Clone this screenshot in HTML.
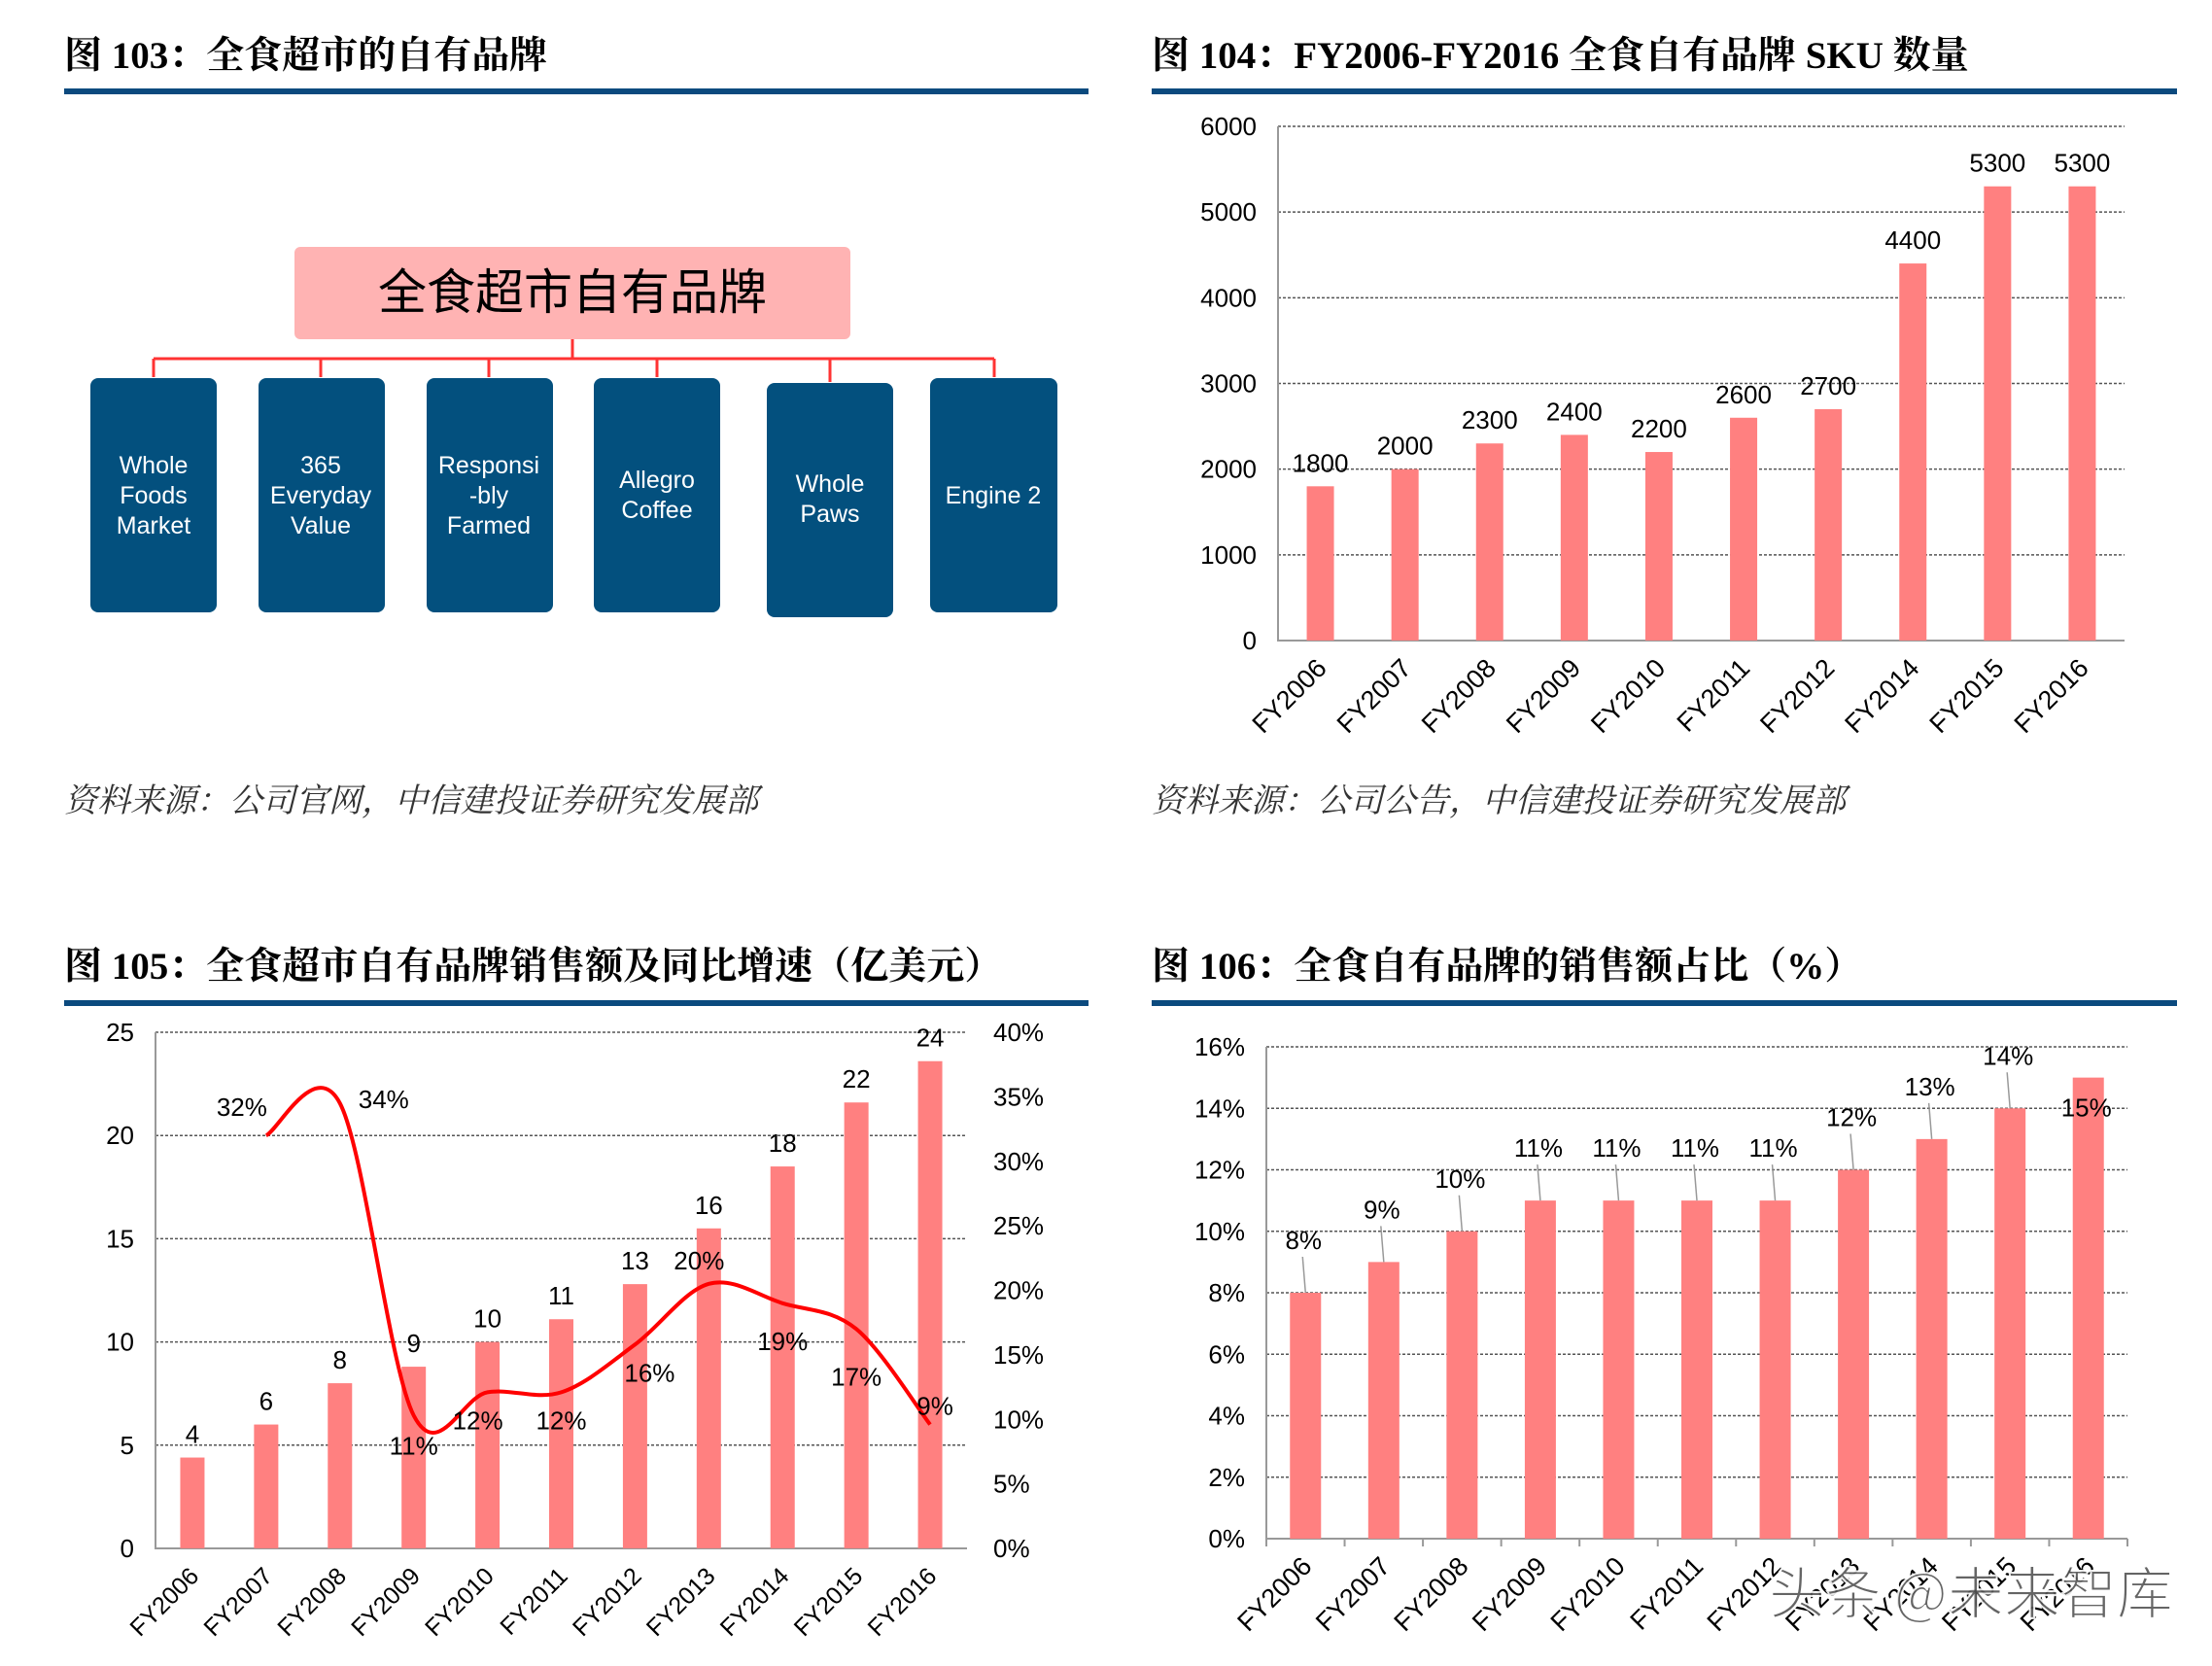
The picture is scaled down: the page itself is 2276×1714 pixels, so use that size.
<!DOCTYPE html>
<html><head><meta charset="utf-8">
<style>
html,body{margin:0;padding:0;background:#fff;}
svg{display:block;}
.t{font-family:"Liberation Serif","Noto Serif CJK SC",serif;font-weight:bold;font-size:39px;fill:#000;}
.s{font-family:"Liberation Serif","Noto Serif CJK SC",serif;font-style:italic;font-size:34px;fill:#333;}
.n{font-family:"Liberation Sans","Noto Sans CJK SC",sans-serif;font-size:25px;fill:#000;}
.b{font-family:"Liberation Sans",sans-serif;font-size:25px;fill:#fff;}
</style></head>
<body>
<svg id="root" width="2276" height="1714" viewBox="0 0 2276 1714" xmlns="http://www.w3.org/2000/svg">
<g>
<text class="t" x="66" y="70">图 103：全食超市的自有品牌</text>
<rect x="66" y="91" width="1054" height="6" fill="#0b4a7e"/>
<rect x="303" y="254" width="572" height="95" rx="6" fill="#ffb3b3"/>
<text x="589" y="318" text-anchor="middle" style="font-family:'Noto Sans CJK SC',sans-serif;font-size:50px" fill="#000">全食超市自有品牌</text>
<g stroke="#ff3333" stroke-width="3" fill="none">
<path d="M589 349V369M158 369H1023M158 369V388M330 369V388M503 369V388M676 369V388M854 369V393M1023 369V388"/>
</g>
<g>
<rect x="93" y="389" width="130" height="241" rx="8" fill="#03507e"/>
<text class="b" text-anchor="middle"><tspan x="158" y="487">Whole</tspan><tspan x="158" y="518">Foods</tspan><tspan x="158" y="549">Market</tspan></text>
<rect x="266" y="389" width="130" height="241" rx="8" fill="#03507e"/>
<text class="b" text-anchor="middle"><tspan x="330" y="487">365</tspan><tspan x="330" y="518">Everyday</tspan><tspan x="330" y="549">Value</tspan></text>
<rect x="439" y="389" width="130" height="241" rx="8" fill="#03507e"/>
<text class="b" text-anchor="middle"><tspan x="503" y="487">Responsi</tspan><tspan x="503" y="518">-bly</tspan><tspan x="503" y="549">Farmed</tspan></text>
<rect x="611" y="389" width="130" height="241" rx="8" fill="#03507e"/>
<text class="b" text-anchor="middle"><tspan x="676" y="502">Allegro</tspan><tspan x="676" y="533">Coffee</tspan></text>
<rect x="789" y="394" width="130" height="241" rx="8" fill="#03507e"/>
<text class="b" text-anchor="middle"><tspan x="854" y="506">Whole</tspan><tspan x="854" y="537">Paws</tspan></text>
<rect x="957" y="389" width="131" height="241" rx="8" fill="#03507e"/>
<text class="b" text-anchor="middle" x="1022" y="518">Engine 2</text>
</g>
<text class="s" x="66" y="835">资料来源：公司官网，中信建投证券研究发展部</text>
</g>

<g>
<text class="t" x="1185" y="70">图 104：FY2006-FY2016 全食自有品牌 SKU 数量</text>
<rect x="1185" y="91" width="1055" height="6" fill="#0b4a7e"/>
<g id="c104"></g>
<text class="s" x="1185" y="835">资料来源：公司公告，中信建投证券研究发展部</text>
</g>

<g>
<text class="t" x="66" y="1007">图 105：全食超市自有品牌销售额及同比增速（亿美元）</text>
<rect x="66" y="1029" width="1054" height="6" fill="#0b4a7e"/>
<g id="c105"></g>
</g>

<g>
<text class="t" x="1185" y="1007">图 106：全食自有品牌的销售额占比（%）</text>
<rect x="1185" y="1029" width="1055" height="6" fill="#0b4a7e"/>
<g id="c106"></g>
</g>
<text x="1820" y="1660" style="font-family:'Noto Sans CJK SC',sans-serif;font-size:58px" fill="#555" stroke="#fff" stroke-width="2" opacity="0.9">头条 @未来智库</text>
</svg>
<script>
const sku_categories = ["FY2006","FY2007","FY2008","FY2009","FY2010","FY2011","FY2012","FY2014","FY2015","FY2016"];
const sku_values = [1800,2000,2300,2400,2200,2600,2700,4400,5300,5300];
const sku_ticks = [0,1000,2000,3000,4000,5000,6000];

const sales_categories = ["FY2006","FY2007","FY2008","FY2009","FY2010","FY2011","FY2012","FY2013","FY2014","FY2015","FY2016"];
const sales_values = [4.4,6.0,8.0,8.8,10.0,11.1,12.8,15.5,18.5,21.6,23.6];
const sales_labels = ["4","6","8","9","10","11","13","16","18","22","24"];
const sales_ticks = [0,5,10,15,20,25];
const growth_values = [null,32,34.5,10.3,12.1,12.1,15.8,20.5,19,17,9.6];
const growth_labels = ["","32%","34%","11%","12%","12%","16%","20%","19%","17%","9%"];
const growth_ticks = [0,5,10,15,20,25,30,35,40];

const share_categories = ["FY2006","FY2007","FY2008","FY2009","FY2010","FY2011","FY2012","FY2013","FY2014","FY2015","FY2016"];
const share_values = [8,9,10,11,11,11,11,12,13,14,15];
const share_ticks = [0,2,4,6,8,10,12,14,16];

const NS="http://www.w3.org/2000/svg";
function mk(parent,tag,attrs,text){const e=document.createElementNS(NS,tag);for(const k in attrs)e.setAttribute(k,attrs[k]);if(text!==undefined)e.textContent=text;parent.appendChild(e);return e;}

function axes(g,L,R,T,B,ticks,max,fmt,tickMarks,n){
  const y=v=>B-(v/max)*(B-T);
  ticks.forEach(t=>{
    if(t>0){const gl=mk(g,'line',{x1:L,x2:R,y1:y(t),y2:y(t),stroke:'#555','stroke-width':1.5,'stroke-dasharray':'3,2'});
    
    }
    const tl=mk(g,'text',{class:'n',x:L-22,y:y(t)+9,'text-anchor':'end',style:'font-size:26px'},fmt(t));
    
    
  });
  const ax=mk(g,'path',{d:`M${L} ${T}V${B}H${R}`,stroke:'#999','stroke-width':2,fill:'none'});
  
  
  if(tickMarks){const bw=(R-L)/n;for(let i=0;i<=n;i++){const tk=mk(g,'line',{x1:L+i*bw,x2:L+i*bw,y1:B,y2:B+8,stroke:'#999','stroke-width':2});
  
  }}
  return y;
}
function xlabels(g,cats,L,bw,B,fs){
  cats.forEach((c,i)=>{const cx=L+bw*(i+0.5)+8, cy=B+30;
    const t=mk(g,'text',{class:'n',x:cx,y:cy,'text-anchor':'end',transform:`rotate(-45 ${cx} ${cy})`,style:`font-size:${fs}px`},c);
    
    });
}

// chart 104
(function(){
  const g=document.getElementById('c104');const L=1315,R=2186,T=130,B=659,max=6000;
  const y=axes(g,L,R,T,B,sku_ticks,max,t=>t,false,sku_categories.length);
  const bw=(R-L)/sku_categories.length, w=28;
  sku_values.forEach((v,i)=>{const cx=L+bw*(i+0.5);
    const r=mk(g,'rect',{x:cx-w/2,y:y(v),width:w,height:B-y(v),fill:'#ff8080'});
    
    
    const t=mk(g,'text',{class:'n',x:cx,y:y(v)-15,'text-anchor':'middle',style:'font-size:26px'},String(v));
    
    });
  xlabels(g,sku_categories,L,bw,B,27);
})();

// chart 105
(function(){
  const g=document.getElementById('c105');const L=160,R=995,T=1062,B=1593,max=25;
  const y=axes(g,L,R,T,B,sales_ticks,max,t=>t,false,sales_categories.length);
  const y2=v=>B-(v/40)*(B-T);
  growth_ticks.forEach(t=>{const tl=mk(g,'text',{class:'n',x:1022,y:y2(t)+9,style:'font-size:26px'},t+'%');
    
    });
  const bw=(R-L)/sales_categories.length,w=25;
  sales_values.forEach((v,i)=>{const cx=L+bw*(i+0.5);
    const r=mk(g,'rect',{x:cx-w/2,y:y(v),width:w,height:B-y(v),fill:'#ff8080'});
    
    
    const t=mk(g,'text',{class:'n',x:cx,y:y(v)-15,'text-anchor':'middle',style:'font-size:26px'},sales_labels[i]);
    
    });
  const pts=[];growth_values.forEach((v,i)=>{if(v!==null)pts.push([L+bw*(i+0.5),y2(v)]);});
  let d=`M${pts[0][0]} ${pts[0][1]}`;
  for(let i=0;i<pts.length-1;i++){const p0=pts[i-1]||pts[i],p1=pts[i],p2=pts[i+1],p3=pts[i+2]||p2;
    d+=` C${p1[0]+(p2[0]-p0[0])/6} ${p1[1]+(p2[1]-p0[1])/6} ${p2[0]-(p3[0]-p1[0])/6} ${p2[1]-(p3[1]-p1[1])/6} ${p2[0]} ${p2[1]}`;}
  const ln=mk(g,'path',{d,stroke:'#ff0000','stroke-width':4,fill:'none'});
  
  
  const off=[null,[-25,-20],[45,5],[0,40],[-10,38],[0,38],[15,38],[-10,-15],[0,48],[0,58],[5,-10]];
  growth_values.forEach((v,i)=>{if(v===null)return;const cx=L+bw*(i+0.5);
    const t=mk(g,'text',{class:'n',x:cx+off[i][0],y:y2(v)+off[i][1],'text-anchor':'middle',style:'font-size:26px'},growth_labels[i]);
    
    });
  xlabels(g,sales_categories,L,bw,B,25);
})();

// chart 106
(function(){
  const g=document.getElementById('c106');const L=1303,R=2189,T=1077,B=1583,max=16;
  const y=axes(g,L,R,T,B,share_ticks,max,t=>t+'%',true,share_categories.length);
  const bw=(R-L)/share_categories.length,w=32;
  share_values.forEach((v,i)=>{const cx=L+bw*(i+0.5);
    const r=mk(g,'rect',{x:cx-w/2,y:y(v),width:w,height:B-y(v),fill:'#ff8080'});
    
    
    const last=i===share_values.length-1;
    const ly=last?y(v)+40:y(v)-45;
    if(!last){const ll=mk(g,'line',{x1:cx,y1:y(v),x2:cx-3,y2:ly+8,stroke:'#999','stroke-width':1.5});
      
      }
    const t=mk(g,'text',{class:'n',x:cx-2,y:ly,'text-anchor':'middle',style:'font-size:26px'},v+'%');
    
    });
  xlabels(g,share_categories,L,bw,B,27);
})();
</script>
</body></html>
